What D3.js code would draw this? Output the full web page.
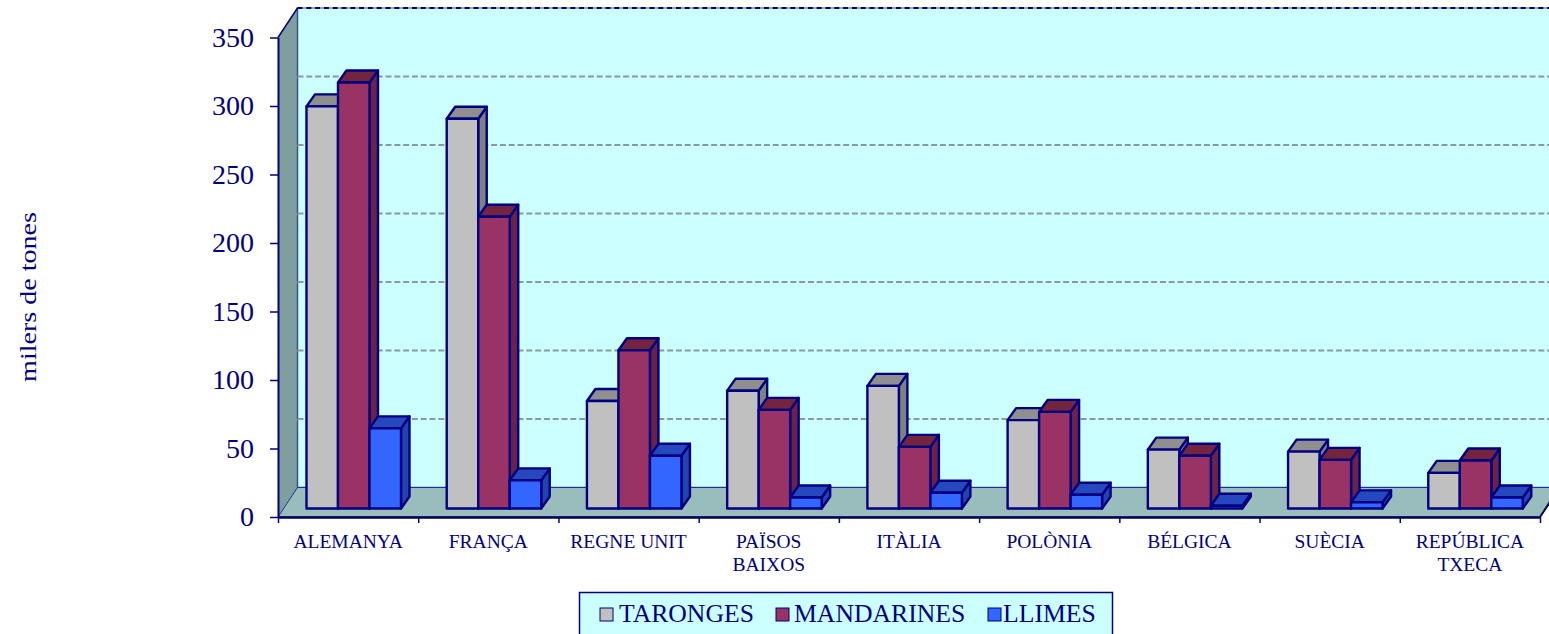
<!DOCTYPE html>
<html>
<head>
<meta charset="utf-8">
<script src="https://cdn.jsdelivr.net/npm/d3@7"></script>
<style>
	body { margin: 0; background: #fff; overflow: hidden; }
	svg { display: block; }
	text { font-family: "Liberation Serif", serif; fill: #000080; }
</style>
</head>
<body>
<div id="chart"></div>
<script>
// data
var categories = ["ALEMANYA", "FRANÇA", "REGNE UNIT", "PAÏSOS BAIXOS", "ITÀLIA", "POLÒNIA", "BÉLGICA", "SUÈCIA", "REPÚBLICA TXECA"];
var categoryLines = [["ALEMANYA"], ["FRANÇA"], ["REGNE UNIT"], ["PAÏSOS", "BAIXOS"], ["ITÀLIA"], ["POLÒNIA"], ["BÉLGICA"], ["SUÈCIA"], ["REPÚBLICA", "TXECA"]];
var seriesNames = ["TARONGES", "MANDARINES", "LLIMES"];
var taronges = [293.5, 284.5, 78.5, 86, 89.5, 64.5, 43, 41.5, 26];
var mandarines = [311, 213, 115.5, 72, 45, 70.5, 38.5, 35.5, 35];
var llimes = [58.5, 20.5, 38.5, 8, 11.5, 10, 2, 4.5, 8];
var seriesValues = [taronges, mandarines, llimes];
var yTicks = [0, 50, 100, 150, 200, 250, 300, 350];

var width = 1549, height = 634;
var navy = "#000080";
var frontColors = ["#c0c0c0", "#993366", "#3366ff"];
var topColors = ["#8f8f8f", "#74243f", "#2648bf"];
var sideColors = ["#808080", "#6b2246", "#2444ad"];

//chart box, front plane of the 3d floor
var plotLeft = 278, plotRight = 1540, plotBottom = 517, plotTop = 37.5;
var wallDx = 19.5, wallDy = 29.5;   //how far the back wall sits behind the axis
var barDx = 8.5, barDy = 12;        //depth of one bar
var barShiftY = 8.5;                //bars stand this far behind the front edge

var svg = d3.select("#chart").append("svg")
	.attr("width", width)
	.attr("height", height);

var y = d3.scaleLinear().domain([0, 350]).range([plotBottom, plotTop]);
var xEdges = d3.scaleLinear().domain([0, categories.length]).range([plotLeft, plotRight]);
var xInner = d3.scaleBand().domain(d3.range(seriesNames.length)).range([0, 94.5]);

function poly(points) {
	return points.map(function(p){ return p.join(","); }).join(" ");
}

//side wall
svg.append("polygon")
	.attr("points", poly([[plotLeft, y(350)], [plotLeft + wallDx, y(350) - wallDy], [plotLeft + wallDx, y(0) - wallDy], [plotLeft, y(0)]]))
	.attr("fill", "#7f9f9f");

//back wall
svg.append("rect")
	.attr("x", plotLeft + wallDx)
	.attr("y", y(350) - wallDy)
	.attr("width", width - plotLeft - wallDx + 30)
	.attr("height", y(0) - y(350))
	.attr("fill", "#ccffff")
	.attr("stroke", "#3a4f96")
	.attr("stroke-width", 1.5);

//floor
svg.append("polygon")
	.attr("points", poly([[plotLeft, y(0)], [plotLeft + wallDx, y(0) - wallDy], [plotRight + wallDx, y(0) - wallDy], [plotRight, y(0)]]))
	.attr("fill", "#99bdbd")
	.attr("stroke", "#1c2f9a")
	.attr("stroke-width", 1);

//gridlines, on the side wall and on the back wall
var grid = svg.append("g");
grid.selectAll(".side").data(yTicks.slice(1, -1)).enter().append("line")
	.attr("x1", plotLeft).attr("y1", function(d){ return y(d); })
	.attr("x2", plotLeft + wallDx).attr("y2", function(d){ return y(d) - wallDy; })
	.attr("stroke", "#8c9a9a").attr("stroke-width", 1);
grid.selectAll(".back").data(yTicks.slice(1, -1)).enter().append("line")
	.attr("x1", plotLeft + wallDx).attr("y1", function(d){ return y(d) - wallDy; })
	.attr("x2", width).attr("y2", function(d){ return y(d) - wallDy; })
	.attr("stroke", "#8a9a9a")
	.attr("stroke-width", 2)
	.attr("stroke-dasharray", "6,2.8");

//the top line of the back wall, navy dashes on top of the grey ones
svg.append("line")
	.attr("x1", plotLeft + wallDx).attr("y1", y(350) - wallDy)
	.attr("x2", width).attr("y2", y(350) - wallDy)
	.attr("stroke", "#9aa8b8").attr("stroke-width", 2);
svg.append("line")
	.attr("x1", plotLeft + wallDx).attr("y1", y(350) - wallDy)
	.attr("x2", width).attr("y2", y(350) - wallDy)
	.attr("stroke", navy).attr("stroke-width", 2)
	.attr("stroke-dasharray", "5,3.8");

//the top edge of the side wall
svg.append("line")
	.attr("x1", plotLeft).attr("y1", y(350))
	.attr("x2", plotLeft + wallDx).attr("y2", y(350) - wallDy)
	.attr("stroke", navy).attr("stroke-width", 1.5);

//bars
var flat = [];
categories.forEach(function(c, i){
	seriesValues.forEach(function(vals, s){
		flat.push({cat: i, s: s, v: vals[i]});
	});
});

var bars = svg.append("g").attr("stroke", navy).attr("stroke-width", 2.4).attr("stroke-linejoin", "round");
var barG = bars.selectAll("g").data(flat).enter().append("g");

function bx(d){ return xEdges(d.cat) + 28.5 + xInner(d.s); }
function by(d){ return y(d.v) - barShiftY; }
function bb(){ return y(0) - barShiftY; }

barG.append("polygon") // side
	.attr("points", function(d){
		var r = bx(d) + xInner.bandwidth();
		return poly([[r, by(d)], [r + barDx, by(d) - barDy], [r + barDx, bb() - barDy], [r, bb()]]);
	})
	.attr("fill", function(d){ return sideColors[d.s]; });
barG.append("polygon") // top
	.attr("points", function(d){
		var l = bx(d), r = l + xInner.bandwidth();
		return poly([[l, by(d)], [l + barDx, by(d) - barDy], [r + barDx, by(d) - barDy], [r, by(d)]]);
	})
	.attr("fill", function(d){ return topColors[d.s]; });
barG.append("rect") // front
	.attr("x", bx)
	.attr("y", by)
	.attr("width", xInner.bandwidth())
	.attr("height", function(d){ return bb() - by(d); })
	.attr("fill", function(d){ return frontColors[d.s]; });

//y axis
var yAxis = svg.append("g")
	.attr("transform", "translate(" + plotLeft + ",0)")
	.call(d3.axisLeft(y).tickValues(yTicks).tickSize(8).tickPadding(16).tickSizeOuter(0));
yAxis.selectAll("text").style("font-family", '"Liberation Serif", serif').style("font-size", "28px").attr("fill", navy);
yAxis.selectAll("line").attr("stroke", navy).attr("stroke-width", 1.5);
yAxis.select(".domain").attr("stroke", navy).attr("stroke-width", 2);

//x axis, ticks sit between the categories
var xAxis = svg.append("g")
	.attr("transform", "translate(0," + plotBottom + ")")
	.call(d3.axisBottom(xEdges).tickValues(d3.range(categories.length + 1)).tickSize(6).tickSizeOuter(0).tickFormat(""));
xAxis.selectAll("line").attr("stroke", navy).attr("stroke-width", 1.5);
xAxis.select(".domain").attr("stroke", "#000050").attr("stroke-width", 2.5);

//the floor's right edge
svg.append("line")
	.attr("x1", plotRight).attr("y1", y(0))
	.attr("x2", plotRight + wallDx).attr("y2", y(0) - wallDy)
	.attr("stroke", "#000050").attr("stroke-width", 2);

//category labels
var labels = svg.append("g").selectAll("text").data(categoryLines).enter().append("text")
	.attr("text-anchor", "middle")
	.style("font-size", "19.5px");
labels.each(function(lines, i){
	d3.select(this).selectAll("tspan").data(lines).enter().append("tspan")
		.attr("x", xEdges(i + 0.5))
		.attr("y", function(d, j){ return 547.5 + j * 23; })
		.text(function(d){ return d; });
});

//y title
svg.append("text")
	.attr("transform", "translate(36,297) rotate(-90) scale(1.22,1)")
	.attr("text-anchor", "middle")
	.style("font-size", "23px")
	.text("milers de tones");

//legend
var legend = svg.append("g");
legend.append("rect")
	.attr("x", 579.5).attr("y", 592.5)
	.attr("width", 533).attr("height", 50)
	.attr("fill", "#ccffff")
	.attr("stroke", navy).attr("stroke-width", 1.5);
var legendSwatchX = [600, 776, 988];
var legendTextX = [619, 794, 1003];
var legendItems = legend.selectAll(".item").data(seriesNames).enter().append("g");
legendItems.append("rect")
	.attr("x", function(d, i){ return legendSwatchX[i]; })
	.attr("y", 608)
	.attr("width", 13).attr("height", 13)
	.attr("fill", function(d, i){ return frontColors[i]; })
	.attr("stroke", navy).attr("stroke-width", 1);
legendItems.append("text")
	.attr("x", function(d, i){ return legendTextX[i]; })
	.attr("y", 622)
	.style("font-size", "25.7px")
	.text(function(d){ return d; });
</script>
</body>
</html>
